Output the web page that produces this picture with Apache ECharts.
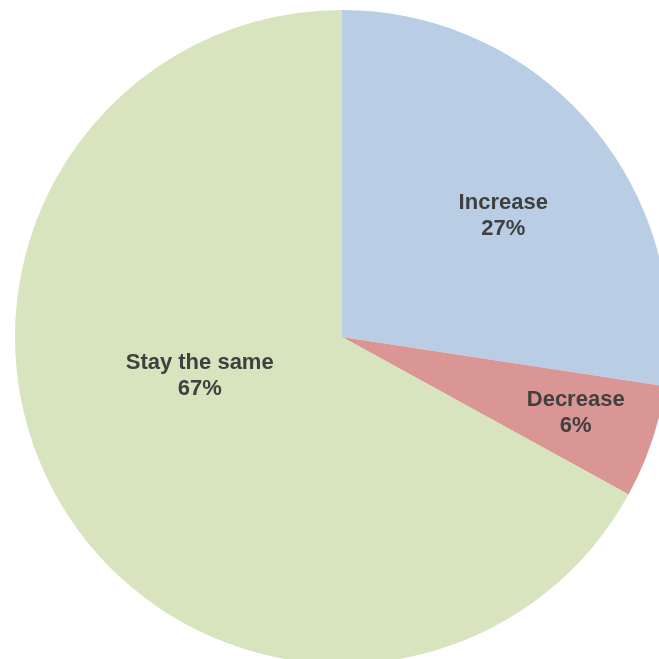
<!DOCTYPE html>
<html>
<head>
<meta charset="utf-8">
<script src="https://cdn.jsdelivr.net/npm/echarts@6/dist/echarts.min.js"></script>
<style>
html,body{margin:0;padding:0;background:#fff;}
#chart{width:659px;height:659px;}
</style>
</head>
<body>
<div id="chart"></div>
<script>
const categories = ["Increase", "Decrease", "Stay the same"];
const values = [27.4, 5.6, 67.0];
const colors = ["#b9cde5", "#da9694", "#d7e4bd"];
const labelOffsets = [[35, -13], [76, 23], [1, -46]];

const chart = echarts.init(document.getElementById('chart'), null, {renderer: 'canvas'});
const data = categories.map((name, i) => ({
  name: name,
  value: values[i],
  itemStyle: {color: colors[i]},
  label: {offset: labelOffsets[i]}
}));
chart.setOption({
  animation: false,
  series: [{
    type: 'pie',
    center: [342, 337],
    radius: 327,
    startAngle: 90,
    clockwise: true,
    avoidLabelOverlap: false,
    itemStyle: {borderWidth: 0},
    label: {
      show: true,
      position: 'inside',
      formatter: p => p.name + '\n' + Math.round(p.percent) + '%',
      color: '#404040',
      fontFamily: 'Liberation Sans, Arial, sans-serif',
      fontWeight: 'bold',
      fontSize: 22,
      lineHeight: 26,
      align: 'center'
    },
    labelLine: {show: false},
    emphasis: {disabled: true},
    data: data
  }]
});
</script>
</body>
</html>
